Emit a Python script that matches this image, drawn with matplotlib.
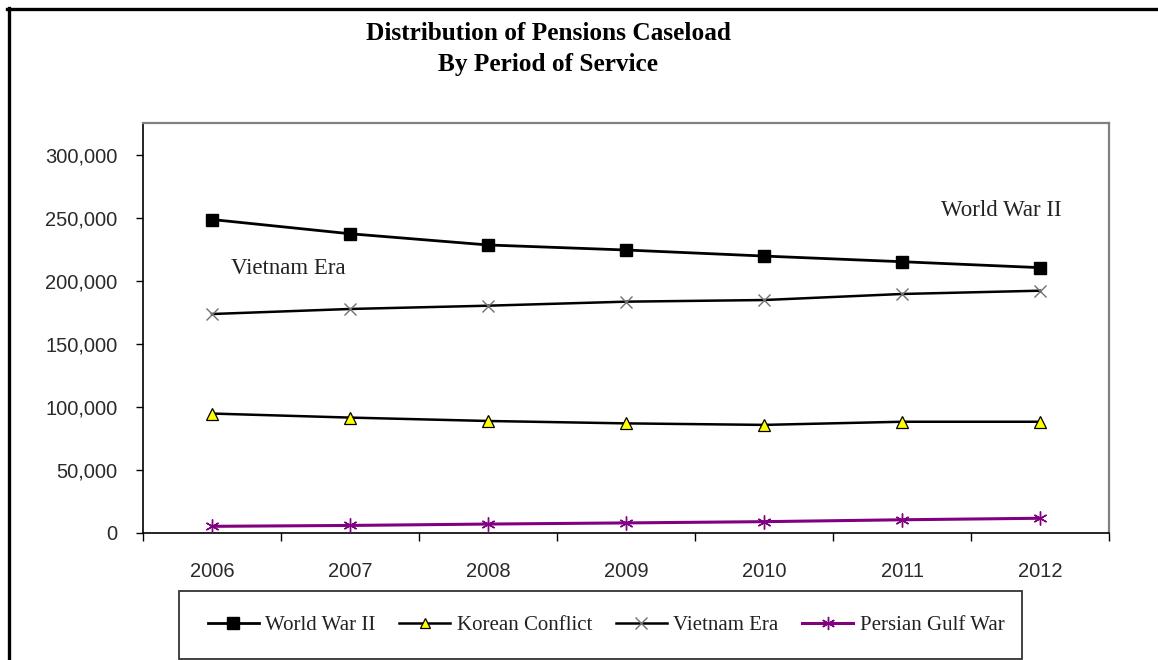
import matplotlib
matplotlib.use("Agg")
import matplotlib.pyplot as plt
from matplotlib.lines import Line2D
from matplotlib.patches import Rectangle
from matplotlib.ticker import FuncFormatter, FixedLocator

years = ["2006", "2007", "2008", "2009", "2010", "2011", "2012"]
world_war_ii = [248800, 237500, 228600, 224600, 219800, 215300, 210600]
korean_conflict = [94800, 91600, 88900, 87000, 85800, 88300, 88300]
vietnam_era = [173800, 177800, 180400, 183600, 184900, 189700, 192300]
persian_gulf_war = [5300, 6000, 7100, 8000, 9000, 10500, 11700]
series_names = ["World War II", "Korean Conflict", "Vietnam Era", "Persian Gulf War"]
y_ticks = [0, 50000, 100000, 150000, 200000, 250000, 300000]

W, H = 1158, 660
fig = plt.figure(figsize=(W / 100, H / 100), dpi=100)
fig.patch.set_facecolor("white")

def fx(px):
    return px / W

def fy(py):
    return 1 - py / H

ax = fig.add_axes([fx(143), fy(533), fx(1109) - fx(143), fy(123) - fy(533)])

x = list(range(len(years)))
serif = ["Liberation Serif", "DejaVu Serif"]
sans = ["Liberation Sans", "DejaVu Sans"]

l1, = ax.plot(x, world_war_ii, color="black", lw=2.0, marker="s", ms=8.5,
              mfc="black", mec="black", zorder=4)
l2, = ax.plot(x, korean_conflict, color="black", lw=1.8, marker="^", ms=8,
              mfc="#ffff00", mec="black", mew=0.9, zorder=4)
l3, = ax.plot(x, vietnam_era, color="black", lw=1.8, marker="x", ms=9,
              mec="#707070", mew=1.0, zorder=4)
l4, = ax.plot(x, persian_gulf_war, color="#800080", lw=2.2, marker=(6, 2, 0),
              ms=10, mec="#800080", mew=1.0, zorder=4)

ax.set_xlim(-0.5, len(years) - 0.5)
ax.set_ylim(0, 300000 * 410 / 378)

ax.set_yticks(y_ticks)
ax.yaxis.set_major_formatter(FuncFormatter(lambda v, p: f"{int(v):,}"))
ax.tick_params(axis="y", direction="out", length=5, width=1.0, color="black",
               pad=13.5, labelsize=14.5, labelcolor="#2a2a2a")
for lab in ax.get_yticklabels():
    lab.set_fontfamily(sans)

ax.xaxis.set_major_locator(FixedLocator([i - 0.5 for i in range(len(years) + 1)]))
ax.xaxis.set_minor_locator(FixedLocator(x))
ax.set_xticklabels([])
ax.set_xticklabels(years, minor=True)
ax.tick_params(axis="x", which="major", direction="out", length=6, width=1.0, color="black")
ax.tick_params(axis="x", which="minor", length=0, pad=21, labelsize=14.5, labelcolor="#2a2a2a")
for lab in ax.get_xticklabels(minor=True):
    lab.set_fontfamily(sans)

for side in ["top", "right"]:
    ax.spines[side].set_color("#808080")
    ax.spines[side].set_linewidth(1.6)
ax.spines["left"].set_color("black")
ax.spines["left"].set_linewidth(1.2)
ax.spines["bottom"].set_color("black")
ax.spines["bottom"].set_linewidth(1.2)

# Series labels inside the plot
fig.text(fx(288), fy(269), "Vietnam Era", ha="center", va="center",
         fontsize=16.5, family=serif, color="#222222")
fig.text(fx(1001), fy(211), "World War II", ha="center", va="center",
         fontsize=16.5, family=serif, color="#222222")

# Title
fig.text(fx(548), fy(34), "Distribution of Pensions Caseload", ha="center", va="center",
         fontsize=18.2, fontweight="bold", family=serif, color="black")
fig.text(fx(548), fy(64), "By Period of Service", ha="center", va="center",
         fontsize=18.2, fontweight="bold", family=serif, color="black")

# Legend box
fig.patches.append(Rectangle((fx(179), fy(659)), fx(1022) - fx(179), fy(591) - fy(659),
                             transform=fig.transFigure, fill=False, ec="#333333", lw=1.3))
leg = fig.legend([l1, l2, l3, l4], series_names, loc="center",
                 bbox_to_anchor=(fx(606), fy(625)), ncol=4, frameon=False,
                 prop={"family": serif, "size": 15}, handlelength=2.45,
                 handletextpad=0.3, columnspacing=1.15, markerscale=0.95)
for t in leg.get_texts():
    t.set_color("#222222")

# Outer chart frame (left and top edges visible)
fig.add_artist(Line2D([fx(8.5), fx(8.5)], [fy(8), fy(660)], transform=fig.transFigure,
                      color="black", lw=2.4))
fig.add_artist(Line2D([fx(7), fx(1158)], [fy(8.5), fy(8.5)], transform=fig.transFigure,
                      color="black", lw=2.4))

fig.savefig("out.png", dpi=100, facecolor="white")
